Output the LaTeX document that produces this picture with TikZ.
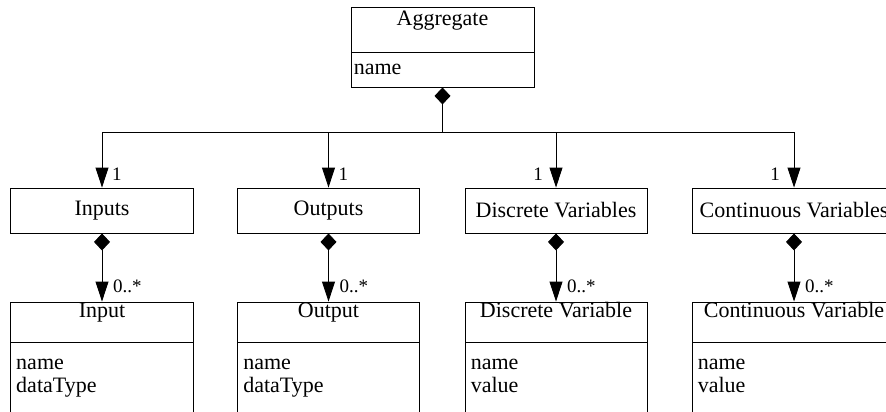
\documentclass[tikz,border=0pt]{standalone}
\usepackage{fontspec}
\setmainfont{Liberation Serif}
\usetikzlibrary{arrows.meta}
\tikzset{
  box/.style={draw, line width=0.9pt, inner sep=0pt, font=\fontsize{22}{25}\selectfont},
  txt/.style={inner sep=0pt, font=\fontsize{22}{25}\selectfont},
  mult/.style={inner sep=0pt, font=\fontsize{19}{22}\selectfont},
  link/.style={line width=0.9pt, -{Triangle[width=13pt,length=20pt]}},
  comp/.style={line width=0.9pt, {Diamond[width=16pt,length=17pt]}-{Triangle[width=13pt,length=20pt]}},
}
\begin{document}
\begin{tikzpicture}[x=1pt,y=-1pt]
\useasboundingbox (0,0) rectangle (886,412);
\clip (0,0) rectangle (886,412);
% Aggregate
\node[box, minimum width=183pt, minimum height=45pt] (agg) at (442.5,29.5) {};
\node[box, minimum width=183pt, minimum height=35pt] (agg-a) at (442.5,69.5) {};
\node[txt, anchor=base] (agg-t) at ([yshift=-19pt]agg.north) {Aggregate};
\node[txt, anchor=base west] (agg-a1) at ([xshift=3pt,yshift=-23pt]agg-a.north west) {name};
\coordinate (hub) at (442.5,132);
\draw[line width=0.9pt, {Diamond[width=16pt,length=17pt]}-] (agg-a.south) -- (hub);
% one column per part
\foreach \n/\x/\w/\hd/\cl/\atb/\an/\dx in {
  inputs/102/183/Inputs/Input/dataType/base west/10,
  outputs/328.5/182/Outputs/Output/dataType/base west/10,
  dvars/556/182/Discrete Variables/Discrete Variable/value/base east/-13,
  cvars/794/204/Continuous Variables/Continuous Variable/value/base east/-14} {
  \node[box, minimum width=\w pt, minimum height=45pt] (\n) at (\x,210.5) {\hd};
  \node[box, minimum width=\w pt, minimum height=40pt] (\n-c) at (\x,322) {};
  \node[box, minimum width=\w pt, minimum height=90pt] (\n-a) at (\x,387) {};
  \node[txt, anchor=base] (\n-t) at ([yshift=-16pt]\n-c.north) {\cl};
  \node[txt, anchor=base west] (\n-a1) at ([xshift=6pt,yshift=-28pt]\n-a.north west) {name};
  \node[txt, anchor=base west] (\n-a2) at ([xshift=6pt,yshift=-51pt]\n-a.north west) {\atb};
  \draw[link] (hub) -| (\n.north);
  \draw[comp] (\n.south) -- (\n-c.north);
  \node[mult, anchor=\an] (\n-m1) at ([xshift=\dx pt,yshift=7pt]\n.north) {1};
  \node[mult, anchor=base west] (\n-m2) at ([xshift=11pt,yshift=9pt]\n-c.north) {0..*};
}
\end{tikzpicture}
\end{document}
